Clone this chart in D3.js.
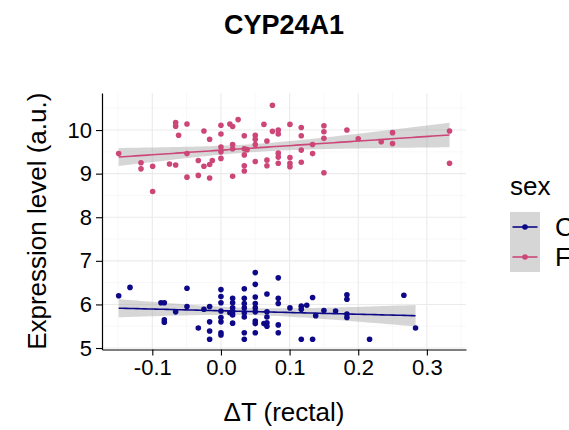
<!DOCTYPE html>
<html>
<head>
<meta charset="utf-8">
<script src="https://cdn.jsdelivr.net/npm/d3@7"></script>
<style>
html,body{margin:0;padding:0;background:#fff;overflow:hidden;}
text{font-family:"Liberation Sans",Arial,Helvetica,sans-serif;}
</style>
</head>
<body>
<svg id="chart" width="569" height="430"></svg>
<script>
const title = "CYP24A1";
const xLabel = "ΔT (rectal)";
const yLabel = "Expression level (a.u.)";
const legendTitle = "sex";
const groups = ["C", "F"];
const groupColors = ["#0D0887", "#CC4678"];
const xTicks = [-0.1, 0.0, 0.1, 0.2, 0.3];
const xMinor = [-0.15, -0.05, 0.05, 0.15, 0.25, 0.35];
const yTicks = [5, 6, 7, 8, 9, 10];
const yMinor = [5.5, 6.5, 7.5, 8.5, 9.5, 10.5];

// Group "F" (pink)
const fX = [-0.149,-0.1165,-0.1165,-0.0995,-0.0995,-0.075,-0.066,-0.066,-0.066,-0.0617,-0.0495,-0.0495,-0.0495,-0.033,-0.033,-0.0248,-0.0248,-0.0165,-0.0165,-0.0165,-0.0126,0,0,0,0,0,0.013,0.017,0.017,0.017,0.017,0.025,0.034,0.034,0.034,0.034,0.034,0.038,0.05,0.05,0.05,0.05,0.0626,0.067,0.067,0.067,0.075,0.075,0.0835,0.0835,0.0835,0.0835,0.0835,0.1005,0.1005,0.1005,0.1005,0.117,0.117,0.117,0.117,0.1335,0.1335,0.15,0.15,0.15,0.15,0.1835,0.2,0.2335,0.25,0.25,0.333,0.333];
const fY = [9.46,9.25,9.11,9.17,8.59,9.22,9.20,10.17,10.09,9.88,10.14,9.46,8.92,9.30,8.96,9.98,9.17,9.79,9.21,8.90,9.30,10.11,9.91,9.61,9.50,9.35,10.14,10.08,9.67,9.57,8.94,10.24,9.87,9.57,9.43,9.18,9.06,9.55,9.88,9.79,9.67,9.28,10.13,9.75,9.31,9.18,10.57,9.97,10.0,9.91,9.47,9.38,9.24,10.13,9.37,9.24,9.16,10.06,9.87,9.54,9.26,9.67,9.46,10.10,9.96,9.81,9.02,10.0,9.80,9.73,9.94,9.69,9.98,9.24];

// Group "C" (blue)
const cX = [-0.149,-0.1325,-0.0874,-0.0825,-0.0825,-0.0825,-0.066,-0.0495,-0.0495,-0.033,-0.0248,-0.0165,-0.0165,-0.0165,-0.0165,0,0,0,0,0,0,0,0,0.017,0.017,0.017,0.017,0.017,0.017,0.013,0.034,0.034,0.034,0.034,0.034,0.034,0.034,0.034,0.05,0.05,0.05,0.05,0.05,0.05,0.05,0.05,0.05,0.0626,0.067,0.067,0.067,0.067,0.067,0.0835,0.0835,0.0835,0.0835,0.0835,0.1005,0.117,0.117,0.117,0.125,0.1335,0.1335,0.138,0.15,0.167,0.1835,0.1835,0.1835,0.1835,0.2165,0.2665,0.2835];
const cY = [6.20,6.39,6.04,6.04,5.65,5.59,5.83,6.37,5.95,5.46,5.89,5.95,5.60,5.39,5.20,6.34,6.18,6.04,5.85,5.70,5.60,5.35,5.30,6.14,6.04,5.92,5.83,5.76,5.57,5.81,6.36,6.14,6.02,5.92,5.81,5.71,5.35,5.20,6.73,6.46,6.17,6.02,5.92,5.83,5.62,5.56,5.35,5.56,6.24,5.83,5.71,5.58,5.50,6.61,6.14,6.02,5.53,5.35,5.92,5.96,5.89,5.20,5.98,6.16,5.20,5.74,5.86,5.85,6.22,6.12,5.78,5.70,5.20,6.21,5.46];

const svg = d3.select("#chart");
const panel = {left: 102, right: 466, top: 93, bottom: 349.5};

const x = d3.scaleLinear().domain([-0.1733, 0.357]).range([panel.left, panel.right]);
const y = d3.scaleLinear().domain([4.966, 10.85]).range([panel.bottom, panel.top]);

// grid
const grid = svg.append("g");
grid.selectAll(".xmin").data(xMinor).enter().append("line")
  .attr("x1", d => x(d)).attr("x2", d => x(d)).attr("y1", panel.top).attr("y2", panel.bottom)
  .attr("stroke", "#f3f3f3").attr("stroke-width", 0.6);
grid.selectAll(".ymin").data(yMinor).enter().append("line")
  .attr("y1", d => y(d)).attr("y2", d => y(d)).attr("x1", panel.left).attr("x2", panel.right)
  .attr("stroke", "#f3f3f3").attr("stroke-width", 0.6);
grid.selectAll(".xmaj").data(xTicks).enter().append("line")
  .attr("x1", d => x(d)).attr("x2", d => x(d)).attr("y1", panel.top).attr("y2", panel.bottom)
  .attr("stroke", "#ebebeb").attr("stroke-width", 1.1);
grid.selectAll(".ymaj").data(yTicks).enter().append("line")
  .attr("y1", d => y(d)).attr("y2", d => y(d)).attr("x1", panel.left).attr("x2", panel.right)
  .attr("stroke", "#ebebeb").attr("stroke-width", 1.1);

function fit(xs, ys) {
  const n = xs.length;
  const mx = d3.mean(xs), my = d3.mean(ys);
  let sxx = 0, sxy = 0;
  for (let i = 0; i < n; i++) { sxx += (xs[i]-mx)**2; sxy += (xs[i]-mx)*(ys[i]-my); }
  const b = sxy / sxx, a = my - b * mx;
  let sse = 0;
  for (let i = 0; i < n; i++) sse += (ys[i] - a - b*xs[i])**2;
  const s = Math.sqrt(sse / (n - 2));
  const t = 1.993;
  const lo = d3.min(xs), hi = d3.max(xs);
  const pts = d3.range(0, 81).map(k => {
    const xv = lo + (hi - lo) * k / 80;
    const yh = a + b * xv;
    const se = s * Math.sqrt(1/n + (xv-mx)**2 / sxx);
    return {x: xv, y: yh, lo: yh - t*se, hi: yh + t*se};
  });
  return pts;
}

const series = [
  {xs: cX, ys: cY, color: groupColors[0]},
  {xs: fX, ys: fY, color: groupColors[1]}
];

const fits = series.map(s => fit(s.xs, s.ys));

const area = d3.area().x(d => x(d.x)).y0(d => y(d.lo)).y1(d => y(d.hi));
const line = d3.line().x(d => x(d.x)).y(d => y(d.y));

series.forEach((s, i) => {
  svg.append("path").datum(fits[i]).attr("d", area)
    .attr("fill", "#999999").attr("fill-opacity", 0.4);
});
series.forEach((s, i) => {
  svg.append("g").selectAll("circle").data(s.xs.map((v, j) => [v, s.ys[j]])).enter()
    .append("circle").attr("cx", d => x(d[0])).attr("cy", d => y(d[1])).attr("r", 2.8)
    .attr("fill", s.color);
});
series.forEach((s, i) => {
  svg.append("path").datum(fits[i]).attr("d", line)
    .attr("fill", "none").attr("stroke", s.color).attr("stroke-width", 1.6);
});

// axes
const xAxis = svg.append("g").attr("transform", `translate(0,${panel.bottom})`)
  .call(d3.axisBottom(x).tickValues(xTicks).tickFormat(d3.format(".1f")).tickSize(6).tickPadding(4).tickSizeOuter(0));
const yAxis = svg.append("g").attr("transform", `translate(${panel.left},0)`)
  .call(d3.axisLeft(y).tickValues(yTicks).tickFormat(d3.format("d")).tickSize(6).tickPadding(4).tickSizeOuter(0));
[xAxis, yAxis].forEach(g => {
  g.select(".domain").attr("stroke", "#000").attr("stroke-width", 1.2);
  g.selectAll(".tick line").attr("stroke", "#000").attr("stroke-width", 1.1);
  g.selectAll(".tick text").attr("fill", "#000").style("font-size", "22px")
    .style("font-family", '"Liberation Sans",Arial,sans-serif');
});
xAxis.selectAll(".tick text").text(d => d3.format(".1f")(d).replace("−", "-"));

// titles
svg.append("text").attr("x", (panel.left + panel.right) / 2).attr("y", 34)
  .attr("text-anchor", "middle").style("font-size", "27px").style("font-weight", "bold").text(title);
svg.append("text").attr("x", (panel.left + panel.right) / 2).attr("y", 421)
  .attr("text-anchor", "middle").style("font-size", "26px").text(xLabel);
svg.append("text").attr("transform", `translate(46,${(panel.top + panel.bottom) / 2}) rotate(-90)`)
  .attr("text-anchor", "middle").style("font-size", "26px").text(yLabel);

// legend
const lg = svg.append("g");
lg.append("text").attr("x", 510).attr("y", 195).style("font-size", "26px").text(legendTitle);
groups.forEach((g, i) => {
  const ky = 212 + i * 30;
  lg.append("rect").attr("x", 510).attr("y", ky).attr("width", 30).attr("height", 30).attr("fill", "#d6d6d6");
  lg.append("line").attr("x1", 512.5).attr("x2", 537.5).attr("y1", ky + 15).attr("y2", ky + 15)
    .attr("stroke", groupColors[i]).attr("stroke-width", 1.6);
  lg.append("circle").attr("cx", 525).attr("cy", ky + 15).attr("r", 2.8).attr("fill", groupColors[i]);
  lg.append("text").attr("x", 555).attr("y", ky + 24).style("font-size", "26px").text(g);
});
</script>
</body>
</html>
